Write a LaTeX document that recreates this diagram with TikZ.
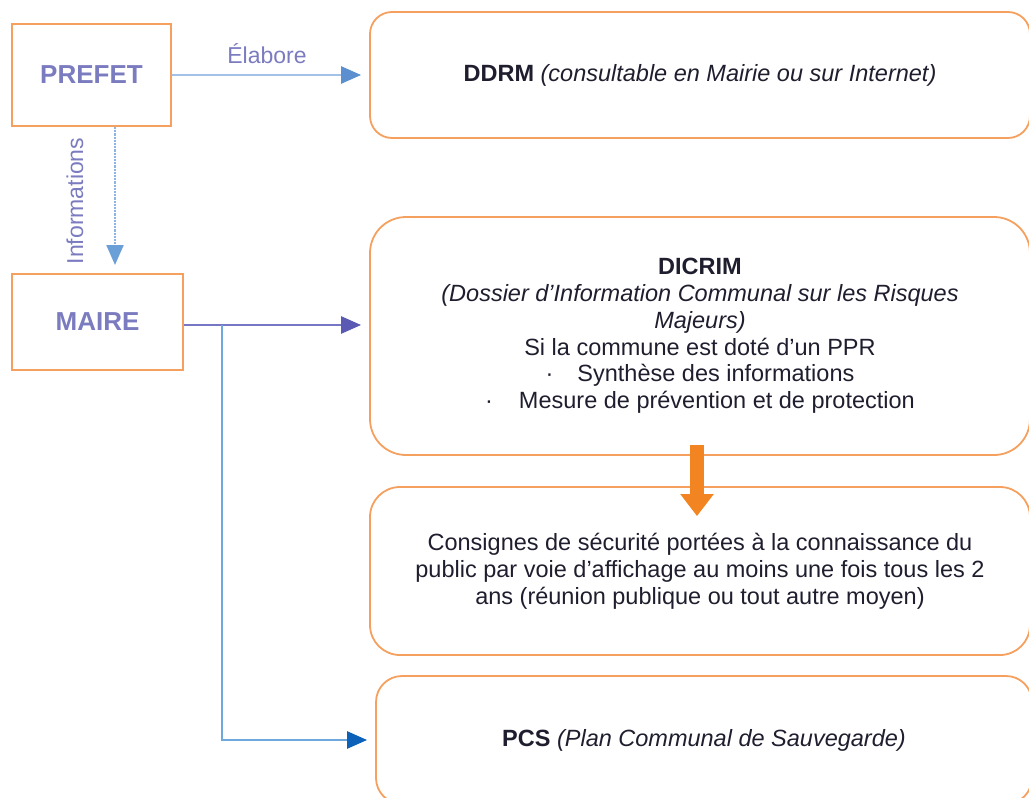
\documentclass[tikz,border=0pt]{standalone}
\usepackage{fontspec}
\setmainfont{Liberation Sans}
\usetikzlibrary{arrows.meta,calc}
\definecolor{boxor}{HTML}{F5A05E}
\definecolor{lblpu}{HTML}{7B7BC0}
\definecolor{txt}{HTML}{1E1E2E}
\definecolor{lnA}{HTML}{A4C2E8}
\definecolor{tipA}{HTML}{5B8FD0}
\definecolor{lnB}{HTML}{7676C4}
\definecolor{tipB}{HTML}{5A5AB5}
\definecolor{lnC}{HTML}{6FA8DC}
\definecolor{tipC}{HTML}{0B62B8}
\definecolor{lnD}{HTML}{8DB4E2}
\definecolor{tipD}{HTML}{6A9FD8}
\definecolor{orar}{HTML}{F28522}
\begin{document}
\begin{tikzpicture}[x=1pt,y=-1pt,
  sqbox/.style={draw=boxor, line width=2pt, inner sep=0pt, text=lblpu,
    font=\bfseries\fontsize{26}{28}\selectfont},
  rbox/.style={draw=boxor, line width=1.8pt, inner sep=0pt, text=txt, align=center,
    font=\fontsize{23.5}{26.8}\selectfont},
  lbl/.style={text=lblpu, font=\fontsize{23}{26}\selectfont, inner sep=0pt},
  conn/.style={line width=2.6pt},
]
\useasboundingbox (0,0) rectangle (1029,798);

\node[sqbox, minimum width=159, minimum height=102] (prefet) at (91.5,75) {PREFET};
\node[sqbox, minimum width=171, minimum height=96] (maire) at (97.5,322) {MAIRE};

\node[rbox, rounded corners=22, minimum width=660, minimum height=126] (ddrm) at (700,75)
  {{\bfseries DDRM} \textit{(consultable en Mairie ou sur Internet)}};
\node[rbox, rounded corners=36, minimum width=660, minimum height=238] (dicrim) at (700,336)
  {{\bfseries DICRIM}\\
   \textit{(Dossier d’Information Communal sur les Risques}\\
   \textit{Majeurs)}\\
   Si la commune est doté d’un PPR\\
   \textperiodcentered\hspace{24pt}Synthèse des informations\\
   \textperiodcentered\hspace{26pt}Mesure de prévention et de protection};
\node[rbox, rounded corners=30, minimum width=660, minimum height=168] (consignes) at (700,571)
  {Consignes de sécurité portées à la connaissance du\\
   public par voie d’affichage au moins une fois tous les 2\\
   ans (réunion publique ou tout autre moyen)};
\node[rbox, rounded corners=26, minimum width=656, minimum height=128] (pcs) at (704,740)
  {{\bfseries PCS} \textit{(Plan Communal de Sauvegarde)}};

% PREFET -> DDRM
\draw[conn, draw=lnA, -{Triangle[width=17pt,length=20pt,color=tipA]}, shorten >=8pt]
  (prefet.east) -- (ddrm.west);
\node[lbl] (elab) at (267,54) {Élabore};

% PREFET -> MAIRE (Informations)
\coordinate (ix) at (115,0);
\draw[line width=2.2pt, draw=lnD, densely dotted, -{Triangle[width=17pt,length=20pt,color=tipD]}, shorten >=8pt]
  (prefet.south -| ix) -- (maire.north -| ix);
\node[lbl, rotate=90] (info) at (75,201) {Informations};

% MAIRE -> DICRIM
\coordinate (my) at (0,325);
\draw[conn, draw=lnB, -{Triangle[width=17pt,length=20pt,color=tipB]}, shorten >=8pt]
  (maire.east |- my) -- (dicrim.west |- my);

% MAIRE -> PCS
\coordinate (bx) at (222,325);
\draw[conn, draw=lnC, -{Triangle[width=17pt,length=20pt,color=tipC]}, shorten >=8pt]
  (bx) |- (pcs.west);

% DICRIM -> Consignes (orange)
\draw[line width=14pt, draw=orar, -{Triangle[width=32pt,length=22pt,color=orar]}]
  ($(dicrim.south)+(-3,-11)$) -- ($(consignes.north)+(-3,30)$);
\end{tikzpicture}
\end{document}
